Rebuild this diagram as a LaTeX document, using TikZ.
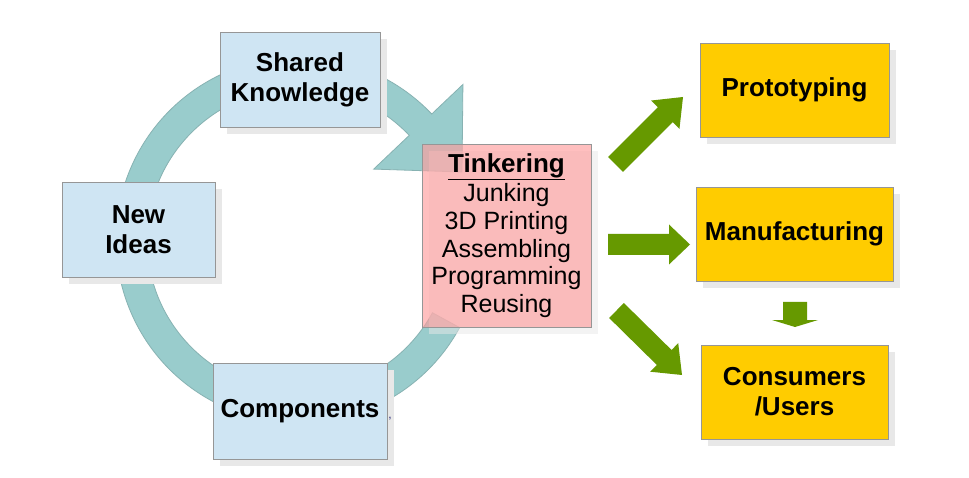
\documentclass[tikz,border=0pt]{standalone}
\usepackage{fontspec}
\setmainfont{Liberation Sans}
\usetikzlibrary{calc,shadows}
\definecolor{boxblue}{RGB}{207,229,243}
\definecolor{boxpink}{RGB}{255,157,157}
\definecolor{boxgold}{RGB}{255,204,0}
\definecolor{ringteal}{RGB}{153,204,204}
\definecolor{ringedge}{RGB}{135,178,178}
\definecolor{arrowgreen}{RGB}{102,153,0}
\definecolor{boxedge}{RGB}{150,150,150}
\definecolor{shadowgray}{RGB}{232,232,232}
\definecolor{commablue}{RGB}{40,40,120}
\newcommand{\fatarr}[5]{% #1 tail, #2 tip, #3 shaft half width, #4 head half width, #5 head length
  \coordinate (hb) at ($(#2)!#5!(#1)$);
  \fill[arrowgreen] ($(#1)!#3!90:(#2)$) -- ($(hb)!#3!-90:(#1)$) -- ($(hb)!#4!-90:(#1)$) -- (#2)
    -- ($(hb)!#4!90:(#1)$) -- ($(hb)!#3!90:(#1)$) -- ($(#1)!#3!-90:(#2)$) -- cycle;
}
\tikzset{
  box/.style={draw=boxedge, line width=0.8pt, inner sep=0pt, align=center,
    drop shadow={shadow xshift=7pt, shadow yshift=-7pt, fill=shadowgray, opacity=1}},
  lbl/.style={font=\fontsize{26}{30}\selectfont\bfseries},
  bluebox/.style={box, lbl, fill=boxblue},
  goldbox/.style={box, lbl, fill=boxgold},
  pinkbox/.style={draw=boxedge, line width=0.8pt, inner sep=0pt, align=center,
    drop shadow={shadow xshift=7pt, shadow yshift=-7pt, fill=shadowgray, opacity=0.5},
    fill=boxpink, fill opacity=0.65, text opacity=1,
    font=\fontsize{25}{27.6}\selectfont},
}
\begin{document}
\begin{tikzpicture}[x=1pt,y=-1pt]
\useasboundingbox (0,0) rectangle (969,478);
\fill[white] (0,0) rectangle (969,478);
% circular arrow
\coordinate (c) at (299,240);
\coordinate (ringtip) at (462,172);
\filldraw[fill=ringteal, draw=ringedge, line width=0.8pt]
  ($(c)+(28.6:183)$) arc[start angle=28.6, end angle=316.5, radius=183]
  -- ($(c)+(316.5:226)$) -- (ringtip) -- ($(c)+(316.5:103)$) -- ($(c)+(316.5:152)$)
  arc[start angle=316.5, end angle=28.6, radius=152] -- cycle;
% boxes
\node[bluebox, minimum width=160pt, minimum height=95pt] (sk) at (300,79.5) {Shared\\Knowledge};
\node[bluebox, minimum width=153pt, minimum height=95pt] (ni) at (138.5,229.5) {New\\Ideas};
\node[bluebox, minimum width=174pt, minimum height=96pt] (comp) at (300,411) {Components};
\node[pinkbox, minimum width=169pt, minimum height=183pt] (tink) at (506.5,235.5)
  {{\fontsize{26}{30}\selectfont\bfseries\underline{Tinkering}}\\[2pt]Junking\\3D Printing\\Assembling\\Programming\\Reusing};
\node[goldbox, minimum width=189pt, minimum height=94pt] (proto) at (794.5,90) {Prototyping};
\node[goldbox, minimum width=197pt, minimum height=94pt] (manu) at (794.5,234) {Manufacturing};
\node[goldbox, minimum width=187pt, minimum height=94pt] (cons) at (794.5,392) {Consumers\\/Users};
\node[text=commablue, font=\fontsize{12}{12}\selectfont, inner sep=0pt] (comma) at (390,419) {,};
% green block arrows
\coordinate (a1t) at (615.5,164.5); \coordinate (a1h) at (683,97);
\coordinate (a2t) at (608,244.5);   \coordinate (a2h) at (690,244.5);
\coordinate (a3t) at (616.5,310.5); \coordinate (a3h) at (682,375);
\coordinate (a4t) at (795,302);     \coordinate (a4h) at (795,327);
\fatarr{a1t}{a1h}{10.5pt}{20pt}{25pt}
\fatarr{a2t}{a2h}{10.5pt}{20pt}{21pt}
\fatarr{a3t}{a3h}{10.5pt}{20pt}{25pt}
\fatarr{a4t}{a4h}{12pt}{23pt}{7pt}
\end{tikzpicture}
\end{document}
